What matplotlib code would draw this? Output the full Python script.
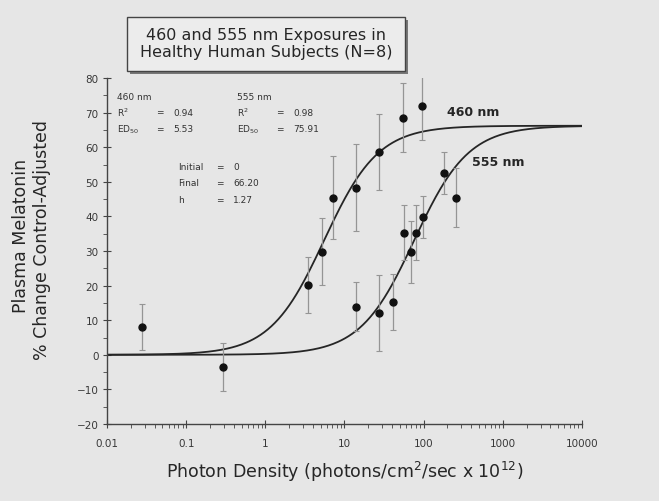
import matplotlib.pyplot as plt
import numpy as np
from matplotlib.patches import Rectangle

plt.rcParams['font.family'] = ['DejaVu Sans']

# datos
x460 = [0.028, 0.29, 3.47, 5.2, 7.1, 13.9, 27.2, 54.6, 94.8]
y460 = [8.1, -3.5, 20.2, 29.8, 45.4, 48.3, 58.7, 68.5, 72.0]
e460 = [6.7, 7.0, 8.0, 9.7, 12.0, 12.5, 11.0, 10.0, 10.0]

x555 = [13.9, 27.2, 40.8, 56, 69, 81, 97, 180, 255]
y555 = [13.9, 12.1, 15.3, 35.3, 29.8, 35.3, 39.9, 52.6, 45.4]
e555 = [7.0, 11.0, 8.0, 8.0, 9.0, 8.0, 6.0, 6.0, 8.6]

# parametros del ajuste (ecuacion de Hill)
inicial = 0
final = 66.20
h = 1.27
ed50_460 = 5.53
ed50_555 = 75.91
r2_460 = 0.94
r2_555 = 0.98

xticks = [0.01, 0.1, 1, 10, 100, 1000, 10000]
xtick_labels = ['0.01', '0.1', '1', '10', '100', '1000', '10000']
yticks = [-20, -10, 0, 10, 20, 30, 40, 50, 60, 70, 80]

fondo = '#e6e6e6'
tinta = '#262626'

def hill(x, ed50):
    return inicial + (final - inicial) * x**h / (x**h + ed50**h)

fig = plt.figure(figsize=(6.59, 5.02), dpi=100, facecolor=fondo)
ax = fig.add_axes([107/659, 1-425/502, 475/659, 346/502])
ax.set_facecolor(fondo)

xs = np.logspace(-2, 4, 400)
ax.plot(xs, hill(xs, ed50_460), color=tinta, lw=1.3)
ax.plot(xs, hill(xs, ed50_555), color=tinta, lw=1.3)

for xx, yy, ee in [(x460, y460, e460), (x555, y555, e555)]:
    ax.errorbar(xx, yy, yerr=ee, fmt='none', ecolor='#959595', elinewidth=0.9,
                capsize=2.5, capthick=0.8)
    ax.plot(xx, yy, 'o', color='#111111', ms=5)

ax.set_xscale('log')
ax.set_xlim(0.01, 10000)
ax.set_ylim(-20, 80)
ax.set_xticks(xticks)
ax.set_xticklabels(xtick_labels)
ax.set_yticks(yticks)
ax.set_yticks(np.arange(-15, 80, 10), minor=True)
ax.spines['top'].set_visible(False)
ax.spines['right'].set_visible(False)
for s in ['left', 'bottom']:
    ax.spines[s].set_color('#444444')
    ax.spines[s].set_linewidth(1.0)
ax.tick_params(axis='both', which='major', direction='inout', length=6,
               width=0.8, color='#444444', labelsize=7.5, labelcolor='#383838')
ax.tick_params(axis='both', which='minor', direction='out', length=3,
               width=0.6, color='#444444')
ax.tick_params(axis='x', which='major', pad=7)
ax.tick_params(axis='y', which='major', pad=3)

ax.set_xlabel('Photon Density (photons/cm$^2$/sec x 10$^{12}$)', fontsize=12.5,
              color=tinta, labelpad=8)
fig.text(21/659, 1-236/502, 'Plasma Melatonin', rotation=90, fontsize=12.5,
         color=tinta, ha='center', va='center')
fig.text(42/659, 1-240/502, '% Change Control-Adjusted', rotation=90, fontsize=12.5,
         color=tinta, ha='center', va='center')

# caja del titulo con sombra
fig.patches.append(Rectangle((130/659, 1-75/502), 278/659, 54/502,
                             transform=fig.transFigure, facecolor='#777777',
                             edgecolor='none'))
fig.patches.append(Rectangle((127/659, 1-72/502), 278/659, 54/502,
                             transform=fig.transFigure, facecolor='#ececec',
                             edgecolor='#444444', lw=1))
fig.text(266/659, 1-44/502, '460 and 555 nm Exposures in\nHealthy Human Subjects (N=8)',
         ha='center', va='center', fontsize=11.5, color=tinta, linespacing=1.15)

# textos de estadisticas
st = dict(fontsize=6.5, color='#333333', va='center')
fig.text(117/659, 1-98/502, '460 nm', **st)
fig.text(117/659, 1-113/502, 'R$^2$', **st)
fig.text(156/659, 1-113/502, '=', **st)
fig.text(173/659, 1-113/502, f'{r2_460:.2f}', **st)
fig.text(117/659, 1-130/502, 'ED$_{50}$', **st)
fig.text(156/659, 1-130/502, '=', **st)
fig.text(173/659, 1-130/502, f'{ed50_460:.2f}', **st)
fig.text(237/659, 1-98/502, '555 nm', **st)
fig.text(237/659, 1-113/502, 'R$^2$', **st)
fig.text(276/659, 1-113/502, '=', **st)
fig.text(293/659, 1-113/502, f'{r2_555:.2f}', **st)
fig.text(237/659, 1-130/502, 'ED$_{50}$', **st)
fig.text(276/659, 1-130/502, '=', **st)
fig.text(293/659, 1-130/502, f'{ed50_555:.2f}', **st)

fig.text(178/659, 1-168/502, 'Initial', **st)
fig.text(216/659, 1-168/502, '=', **st)
fig.text(233/659, 1-168/502, f'{inicial}', **st)
fig.text(178/659, 1-184/502, 'Final', **st)
fig.text(216/659, 1-184/502, '=', **st)
fig.text(233/659, 1-184/502, f'{final:.2f}', **st)
fig.text(178/659, 1-201/502, 'h', **st)
fig.text(216/659, 1-201/502, '=', **st)
fig.text(233/659, 1-201/502, f'{h:.2f}', **st)

ax.text(447/659, 1-113/502, '460 nm', transform=fig.transFigure, fontsize=9,
        fontweight='bold', color=tinta, va='center')
ax.text(472/659, 1-163/502, '555 nm', transform=fig.transFigure, fontsize=9,
        fontweight='bold', color=tinta, va='center')

fig.savefig('out.png', dpi=100, facecolor=fondo)
